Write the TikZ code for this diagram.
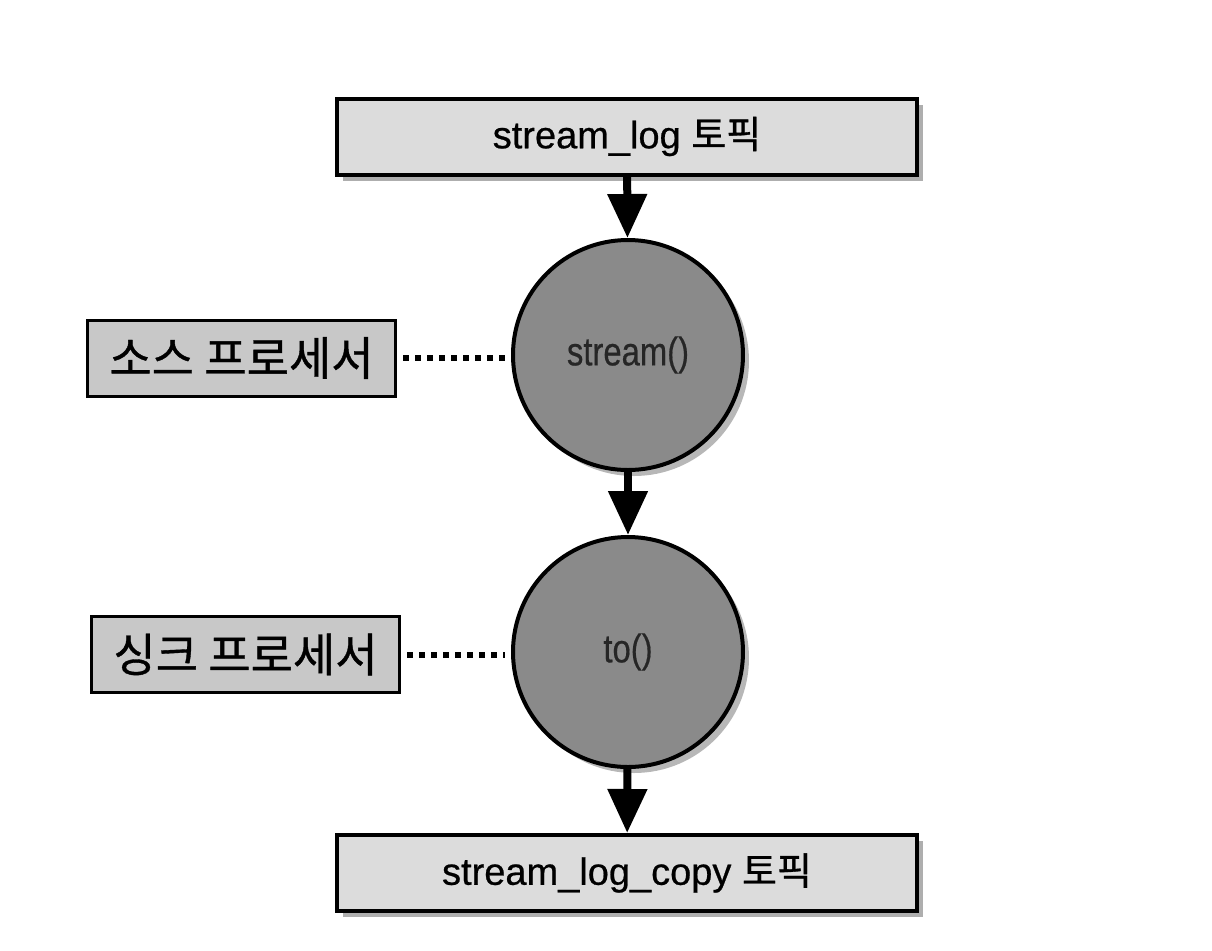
\documentclass[tikz,border=0pt]{standalone}
\usepackage{fontspec}
\setmainfont[FakeBold=0.6]{Liberation Sans}
\newfontfamily\kr[FakeBold=0.8]{Noto Sans CJK KR}
\newfontfamily\opfont[FakeBold=0.5]{Liberation Sans}
\usetikzlibrary{shadows,arrows.meta}
\definecolor{topicfill}{HTML}{DCDCDC}
\definecolor{procfill}{HTML}{C8C8C8}
\definecolor{opfill}{HTML}{8A8A8A}
\tikzset{
  topicbox/.style={draw=black, line width=2pt, fill=topicfill, minimum width=290pt, minimum height=38pt, inner sep=0pt,
    drop shadow={shadow xshift=3pt, shadow yshift=-3pt, opacity=0.45, fill=black!70}, font=\fontsize{19}{22}\selectfont},
  procbox/.style={draw=black, line width=1.5pt, fill=procfill, minimum width=154pt, minimum height=38pt, inner sep=0pt,
    font=\kr\fontsize{23}{26}\selectfont},
  opnode/.style={circle, draw=black, line width=2pt, fill=opfill, minimum size=115pt, inner sep=0pt,
    drop shadow={shadow xshift=3pt, shadow yshift=-3pt, opacity=0.4, fill=black!70}, font=\opfont\fontsize{20}{24}\selectfont, text=black!85},
  flow/.style={line width=4pt, -{Triangle[length=22pt, width=19pt]}},
  link/.style={line width=3pt, dash pattern=on 3pt off 3pt}
}
\begin{document}
\begin{tikzpicture}[x=0.5pt,y=-0.5pt]
\useasboundingbox (0,0) rectangle (1212,950);
\node[topicbox] (src) at (627,136.5) {stream\_log {\kr 토픽}};
\node[opnode] (stream) at (628,355) {\scalebox{0.82}[1]{stream()}};
\node[opnode] (to) at (628,652) {\scalebox{0.82}[1]{to()}};
\node[topicbox] (dst) at (627,873) {stream\_log\_copy {\kr 토픽}};
\node[procbox] (sp) at (241.5,358) {소스 프로세서};
\node[procbox] (kp) at (245.5,654.5) {싱크 프로세서};
\draw[flow] (src) -- (stream);
\draw[flow] (stream) -- (to);
\draw[flow] (to) -- (dst);
\draw[link] ([xshift=3pt]sp.east) -- ([xshift=-3pt]stream.west |- sp.east);
\draw[link] ([xshift=3pt]kp.east) -- ([xshift=-3pt]to.west |- kp.east);
\end{tikzpicture}
\end{document}
